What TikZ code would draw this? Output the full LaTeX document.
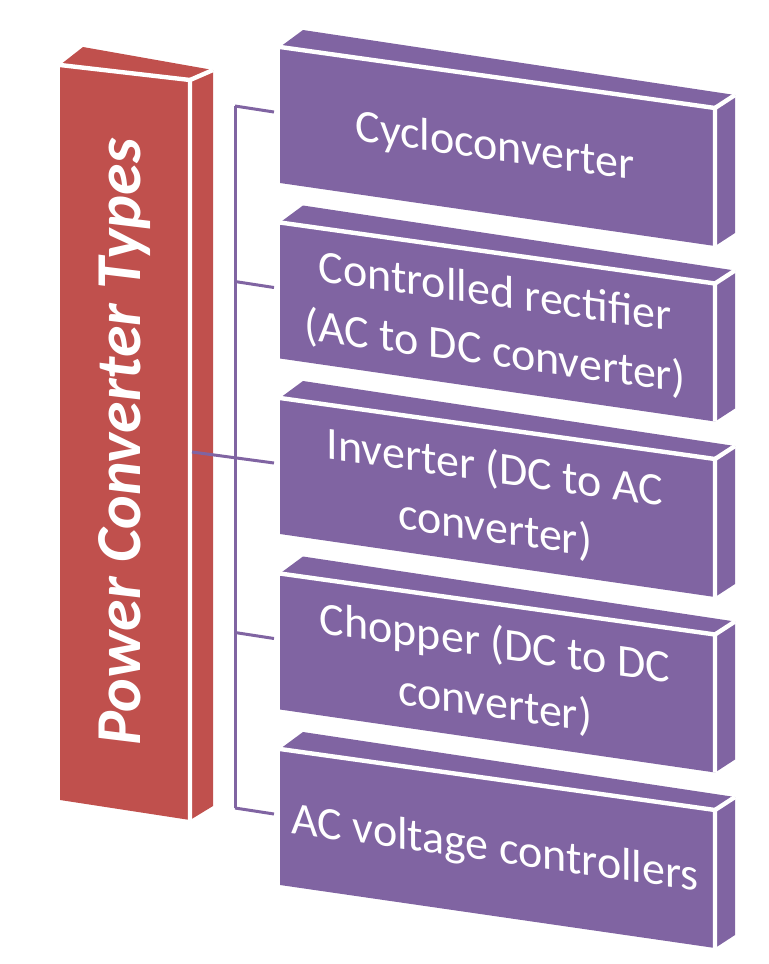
\documentclass[tikz,border=0pt]{standalone}
\usepackage{fontspec}
\setmainfont{Carlito}
\usepackage{tikz}
\usepackage{xcolor}
\definecolor{rootred}{HTML}{C0504D}
\definecolor{typepurple}{HTML}{8064A2}

\begin{document}
\begin{tikzpicture}[x=0.5pt,y=-0.5pt,
    facegap/.style={white,line width=2.2pt,line join=miter},
    branch/.style={typepurple,line width=1.5pt},
    roottext/.style={white,anchor=base,rotate=90,font=\fontsize{32}{38}\selectfont\bfseries\itshape},
    typetext/.style={white,align=center,yslant=-0.141,font=\fontsize{23}{30}\selectfont}]
      \useasboundingbox (0,0) rectangle (768,964);
      \fill [rootred] (60,65) -- (83,47) -- (213,70) -- (213,806) -- (190,820) -- (60,800) -- cycle;
      \draw [facegap] (60,65) -- (190,80) -- (190,820);
      \draw [facegap] (190,80) -- (213,70);
      \node [roottext] (root) at (140,442) {Power Converter Types};
      \fill [typepurple] (280,47) -- (303,30) -- (735,95) -- (735,233) -- (715,246) -- (280,183) -- cycle;
      \draw [facegap] (280,47) -- (715,108) -- (715,246);
      \draw [facegap] (715,108) -- (735,95);
      \fill [typepurple] (280,222.5) -- (303,205.5) -- (735,270.5) -- (735,408.5) -- (715,421.5) -- (280,358.5) -- cycle;
      \draw [facegap] (280,222.5) -- (715,283.5) -- (715,421.5);
      \draw [facegap] (715,283.5) -- (735,270.5);
      \fill [typepurple] (280,398) -- (303,381) -- (735,446) -- (735,584) -- (715,597) -- (280,534) -- cycle;
      \draw [facegap] (280,398) -- (715,459) -- (715,597);
      \draw [facegap] (715,459) -- (735,446);
      \fill [typepurple] (280,573.5) -- (303,556.5) -- (735,621.5) -- (735,759.5) -- (715,772.5) -- (280,709.5) -- cycle;
      \draw [facegap] (280,573.5) -- (715,634.5) -- (715,772.5);
      \draw [facegap] (715,634.5) -- (735,621.5);
      \fill [typepurple] (280,749) -- (303,732) -- (735,797) -- (735,935) -- (715,948) -- (280,885) -- cycle;
      \draw [facegap] (280,749) -- (715,810) -- (715,948);
      \draw [facegap] (715,810) -- (735,797);
      \node [typetext] (cyclo) at (495,148) {Cycloconverter};
      \node [typetext] (rectifier) at (495,323.5) {Controlled rectifier\\(AC to DC converter)};
      \node [typetext] (inverter) at (495,499) {Inverter (DC to AC\\converter)};
      \node [typetext] (chopper) at (495,674.5) {Chopper (DC to DC\\converter)};
      \node [typetext] (acvc) at (495,850) {AC voltage controllers};
      \coordinate (rootout) at (192,452);
      \coordinate (spine1) at (235,106);
      \coordinate (spine2) at (235,281.5);
      \coordinate (spine3) at (235,457);
      \coordinate (spine4) at (235,632.5);
      \coordinate (spine5) at (235,808);
      \coordinate (in1) at (274,112);
      \coordinate (in2) at (274,287.5);
      \coordinate (in3) at (274,463);
      \coordinate (in4) at (274,638.5);
      \coordinate (in5) at (274,814);
      \draw [branch] (spine1) -- (spine5);
      \draw [branch] (rootout) -- (in3);
      \draw [branch] (spine1) -- (in1);
      \draw [branch] (spine2) -- (in2);
      \draw [branch] (spine4) -- (in4);
      \draw [branch] (spine5) -- (in5);
\end{tikzpicture}
\end{document}
